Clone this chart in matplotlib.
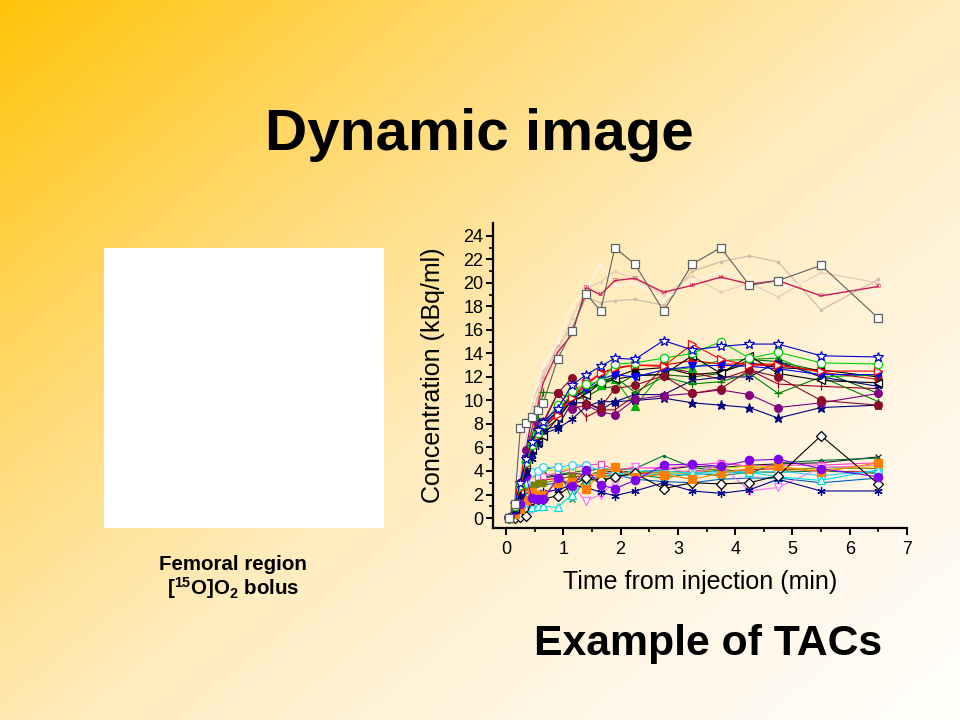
import numpy as np
import matplotlib
matplotlib.use("Agg")
import matplotlib.pyplot as plt
from matplotlib.patches import Rectangle

plt.rcParams['font.family'] = ['Liberation Sans', 'DejaVu Sans']
plt.rcParams['mathtext.fontset'] = 'custom'
plt.rcParams['mathtext.rm'] = 'Liberation Sans'
plt.rcParams['mathtext.bf'] = 'Liberation Sans:bold'
plt.rcParams['mathtext.default'] = 'bf'

# ---------------- data ----------------
times = [0.05, 0.15, 0.25, 0.35, 0.45, 0.55, 0.65, 0.9, 1.15, 1.4, 1.65, 1.9,
         2.25, 2.75, 3.25, 3.75, 4.25, 4.75, 5.5, 6.5]
x_ticks = [0, 1, 2, 3, 4, 5, 6, 7]
y_ticks = [0, 2, 4, 6, 8, 10, 12, 14, 16, 18, 20, 22, 24]

# high group (faint curves, crimson numbered curve, gray squares)
high_faint_a = [0, 1.0, 3.5, 6.0, 8.5, 10.3, 12.0, 14.6, 16.2, 18.8, 18.3, 18.5, 18.6, 18.1, 21.0, 21.8, 22.3, 21.8, 17.7, 20.3]
high_faint_b = [0, 1.2, 4.0, 7.0, 9.5, 11.0, 12.5, 14.0, 17.0, 19.5, 20.1, 21.0, 20.3, 19.0, 20.6, 19.2, 20.0, 18.8, 20.9, 20.0]
high_faint_c = [0, 1.4, 4.5, 7.5, 10.0, 11.5, 13.0, 15.0, 18.0, 19.5, 21.6, 19.8, 20.0, 18.5, 20.2, 21.0, 20.5, 19.5, 20.3, 19.0]
high_crimson = [0, 0.8, 3.0, 5.5, 7.5, 9.5, 11.5, 14.1, 15.6, 19.6, 19.0, 20.2, 20.4, 19.2, 19.8, 20.5, 19.9, 20.2, 18.9, 19.7]
high_gray_sq = [0, 1.2, 7.7, 8.1, 8.6, 9.2, 9.8, 13.5, 15.9, 19.1, 17.6, 23.0, 21.6, 17.6, 21.6, 23.0, 19.8, 20.2, 21.5, 17.0]

# mid group
mid_blue_star = [0, 1.2, 3.0, 5.0, 6.5, 7.5, 8.2, 9.3, 11.3, 12.2, 12.9, 13.6, 13.5, 15.1, 14.3, 14.6, 14.8, 14.8, 13.8, 13.7]
mid_green_circ = [0, 1.0, 2.8, 4.8, 6.2, 7.2, 8.0, 9.6, 10.8, 11.4, 11.6, 13.1, 13.2, 13.6, 14.0, 15.0, 13.6, 14.1, 13.2, 13.1]
mid_red_tri = [0, 1.0, 2.5, 4.5, 6.0, 7.0, 7.8, 8.8, 10.2, 11.5, 12.3, 12.8, 13.0, 12.9, 14.8, 13.5, 13.0, 13.0, 12.5, 12.5]
mid_maroon_circ = [0, 1.0, 3.0, 5.0, 6.5, 7.5, 8.0, 10.6, 11.9, 9.7, 9.4, 11.0, 11.3, 12.1, 10.6, 11.0, 12.6, 12.0, 10.0, 9.6]
mid_purple_circ = [0, 1.0, 3.0, 5.8, 8.5, 8.0, 8.2, 10.6, 9.3, 9.6, 9.0, 8.8, 10.1, 10.4, 10.6, 10.9, 10.5, 9.4, 9.8, 10.6]
mid_navy_star = [0, 0.8, 2.0, 4.0, 5.5, 6.5, 7.5, 7.8, 9.8, 9.8, 9.2, 9.9, 10.0, 10.2, 9.8, 9.6, 9.4, 8.5, 9.4, 9.6]
mid_blue_tri = [0, 1.0, 2.8, 5.0, 6.3, 7.2, 8.1, 9.0, 10.0, 11.0, 11.8, 12.2, 12.0, 12.6, 12.9, 13.0, 12.9, 12.7, 12.2, 12.2]
mid_black_tri = [0, 0.8, 2.2, 4.5, 5.8, 6.5, 7.0, 8.5, 10.0, 10.5, 11.5, 11.8, 12.1, 12.2, 13.8, 12.3, 13.8, 12.3, 11.7, 11.5]
mid_green_plus = [0, 1.0, 3.0, 5.0, 7.0, 8.5, 10.7, 10.6, 10.2, 10.8, 11.5, 12.0, 10.7, 12.0, 11.4, 11.6, 12.3, 10.6, 12.0, 9.9]
mid_navy_ast = [0, 0.8, 2.0, 3.8, 5.0, 6.2, 7.2, 7.6, 8.4, 9.5, 9.9, 9.9, 10.5, 10.5, 11.7, 12.0, 12.0, 13.3, 12.0, 11.2]
mid_red_sq = [0, 1.0, 2.6, 4.6, 6.0, 7.0, 7.9, 9.0, 10.3, 11.3, 12.3, 12.7, 13.0, 13.0, 13.4, 13.1, 13.1, 13.1, 12.4, 11.8]
mid_green_tri = [0, 1.0, 2.7, 4.7, 6.0, 7.0, 7.8, 9.2, 10.5, 11.0, 11.3, 11.8, 9.5, 12.5, 12.8, 13.4, 13.5, 13.6, 12.0, 12.2]
mid_crimson_bar = [0, 0.8, 2.3, 4.5, 5.5, 6.5, 7.5, 8.4, 10.0, 8.6, 9.2, 9.2, 10.4, 12.8, 12.4, 11.8, 12.6, 11.4, 11.2, 11.0]
mid_black_sq = [0, 1.0, 2.8, 4.9, 6.1, 7.0, 7.8, 9.1, 10.4, 10.8, 11.6, 12.0, 12.6, 12.8, 12.2, 12.4, 13.2, 12.8, 12.6, 12.0]
mid_dkgreen = [0, 1.0, 2.5, 4.5, 5.8, 6.8, 7.6, 8.8, 10.0, 10.3, 11.0, 11.2, 12.2, 12.2, 12.0, 12.3, 13.5, 13.3, 12.5, 10.6]

# low group
low_violet_circ = [0, 0.7, 1.2, 3.6, 1.7, 1.6, 1.6, 3.4, 2.7, 4.1, 2.8, 2.5, 3.2, 4.5, 4.6, 4.4, 4.9, 5.0, 4.2, 3.5]
low_orange_sq = [0, 0.3, 0.8, 1.5, 2.2, 2.0, 2.0, 3.0, 3.1, 2.5, 3.8, 4.3, 3.5, 3.7, 3.3, 3.8, 4.2, 4.4, 3.9, 4.7]
low_black_dia = [0, 0, 0.1, 0.2, 1.5, 1.6, 1.6, 1.9, 2.8, 3.4, 3.2, 3.5, 3.8, 2.5, 3.0, 2.9, 3.0, 3.6, 7.0, 2.9]
low_navy_ast = [0, 0.5, 1.0, 1.5, 1.8, 2.0, 2.2, 2.4, 2.8, 2.6, 2.2, 1.9, 2.3, 3.0, 2.3, 2.1, 2.4, 3.3, 2.3, 2.3]
low_cyan_tri = [0, 0.3, 0.6, 0.8, 0.9, 1.0, 1.0, 0.9, 2.0, 3.0, 3.6, 3.7, 4.0, 4.0, 3.8, 4.0, 3.9, 3.5, 3.2, 4.1]
low_cyan_circ = [0, 0.8, 2.0, 3.0, 3.9, 4.0, 4.3, 4.3, 4.5, 4.5, 4.0, 3.8, 3.6, 3.8, 3.6, 3.9, 3.8, 4.0, 3.6, 4.0]
low_pink_tri = [0, 0.2, 0.5, 0.7, 0.8, 1.5, 2.0, 2.5, 2.7, 1.45, 2.0, 3.0, 4.3, 4.3, 3.8, 4.5, 2.3, 2.6, 4.3, 4.5]
low_olive_circ = [0, 0.5, 1.5, 2.6, 2.8, 3.0, 3.0, 3.2, 3.6, 3.0, 3.5, 3.6, 3.9, 3.9, 4.0, 4.2, 3.8, 4.0, 4.3, 4.2]
low_green_x = [0, 0.5, 1.5, 3.0, 3.8, 4.0, 4.1, 4.4, 1.6, 3.5, 3.0, 3.6, 3.7, 3.4, 3.8, 3.6, 3.9, 3.9, 4.0, 3.8]
low_yellow = [0, 0.5, 1.5, 2.8, 3.5, 3.9, 4.0, 4.1, 4.2, 3.9, 3.6, 3.5, 4.0, 3.7, 3.9, 4.2, 4.4, 4.3, 4.1, 4.4]
low_pink_sq = [0, 0.6, 1.5, 2.5, 3.3, 3.5, 3.6, 3.8, 4.2, 4.5, 4.6, 4.1, 4.3, 4.2, 4.5, 4.7, 4.4, 4.5, 4.5, 4.7]
low_dkgreen = [0, 0.6, 1.6, 2.5, 3.0, 3.2, 3.5, 3.7, 3.9, 4.0, 4.2, 4.1, 4.2, 5.3, 4.3, 4.0, 3.8, 4.7, 4.9, 5.1]
low_black_x = [0, 0.5, 1.4, 2.3, 2.8, 3.2, 3.4, 3.6, 3.8, 3.7, 3.9, 4.0, 3.9, 4.1, 4.4, 4.3, 4.5, 4.6, 4.7, 5.2]
low_red = [0, 0.5, 1.3, 2.2, 2.6, 2.9, 3.2, 3.4, 3.5, 3.6, 3.7, 3.9, 3.8, 3.7, 3.9, 4.0, 4.1, 4.2, 4.0, 3.9]
low_blue = [0, 0.4, 1.2, 2.0, 2.4, 2.6, 2.8, 3.0, 3.2, 3.4, 3.5, 3.7, 3.3, 3.1, 3.0, 3.3, 3.4, 3.4, 3.0, 3.4]

# ---------------- styles ----------------
AST = (6, 2, 0)
faint_series = [
    (high_faint_a, '#D9B8A8'),
    (high_faint_b, '#E8CDBD'),
    (high_faint_c, '#FFF4E8'),
]
numbered_series = (high_crimson, '#D01858')
marker_series = [
    # (values, color, marker, filled, size)
    (low_blue, '#0060C0', '', True, 0),
    (low_red, '#FF0000', '', True, 0),
    (low_black_x, '#202020', 'x', True, 5),
    (low_dkgreen, '#007040', '.', True, 3),
    (low_pink_sq, '#FF40C0', 's', False, 5),
    (low_yellow, '#E0E000', '.', True, 3),
    (low_green_x, '#008040', 'x', True, 5),
    (low_olive_circ, '#808000', 'o', True, 5),
    (low_pink_tri, '#FF70FF', 'v', False, 6),
    (low_cyan_circ, '#30D0FF', 'o', False, 5.5),
    (low_cyan_tri, '#00E0E0', '^', False, 6),
    (low_navy_ast, '#000090', AST, True, 6),
    (low_black_dia, '#000000', 'D', False, 5),
    (low_orange_sq, '#FF8000', 's', True, 5.5),
    (low_violet_circ, '#8000F0', 'o', True, 6),
    (mid_dkgreen, '#006400', '', True, 0),
    (mid_black_sq, '#000000', 's', True, 4),
    (mid_crimson_bar, '#A00020', '|', True, 6),
    (mid_green_tri, '#00B000', '^', True, 5.5),
    (mid_red_sq, '#E00000', 's', True, 4.5),
    (mid_navy_ast, '#000080', AST, True, 6),
    (mid_green_plus, '#008000', '+', True, 6),
    (mid_black_tri, '#000000', '<', False, 6),
    (mid_blue_tri, '#0000FF', 'v', True, 5.5),
    (mid_navy_star, '#000080', '*', True, 6.5),
    (mid_purple_circ, '#800080', 'o', True, 5.5),
    (mid_maroon_circ, '#8B0A2A', 'o', True, 5.5),
    (mid_red_tri, '#FF0000', '>', False, 6),
    (mid_green_circ, '#00D000', 'o', False, 6),
    (mid_blue_star, '#0000CC', '*', False, 7),
    (high_gray_sq, '#606060', 's', False, 6),
]

# ---------------- figure ----------------
W, H = 960, 720
fig = plt.figure(figsize=(W / 100, H / 100), dpi=100)

# background gradient
bg = fig.add_axes([0, 0, 1, 1], zorder=-10)
gx, gy = np.meshgrid(np.linspace(0, 1, W), np.linspace(0, 1, H))
t = np.clip(0.55 * gx + 0.5 * gy, 0, 1)
stops = [0.0, 0.3, 0.55, 0.8, 1.0]
rgb = np.dstack([
    np.interp(t, stops, [255, 255, 255, 255, 255]),
    np.interp(t, stops, [196, 218, 236, 246, 253]),
    np.interp(t, stops, [10, 115, 190, 228, 248]),
]) / 255.0
bg.imshow(rgb, aspect='auto', extent=[0, 1, 0, 1], origin='upper')
bg.set_axis_off()

# white image placeholder
fig.add_artist(Rectangle((104 / W, 1 - 528 / H), 280 / W, 280 / H,
                         transform=fig.transFigure, facecolor='white',
                         edgecolor='none', zorder=1))

ax = fig.add_axes([493 / W, 1 - 528 / H, (907 - 493) / W, (528 - 223) / H])
ax.patch.set_alpha(0)

for vals, col in faint_series:
    ax.plot(times, vals, color=col, lw=0.9, marker='.', markersize=3, zorder=2)

vals, col = numbered_series
ax.plot(times, vals, color=col, lw=1.0, zorder=3)
for i, (tx, v) in enumerate(zip(times, vals)):
    if i >= 9:
        ax.text(tx, v, str(i + 1), fontsize=4.5, color=col,
                ha='center', va='center', zorder=3)

for k, (vals, col, mk, filled, ms) in enumerate(marker_series):
    kw = dict(color=col, lw=0.8, zorder=4 + k * 0.01)
    if mk:
        kw.update(marker=mk, markersize=ms, markeredgewidth=0.9,
                  markeredgecolor=col,
                  markerfacecolor=(col if filled else 'white'))
    ax.plot(times, vals, **kw)

ax.set_xlim(-0.227, 7.0)
ax.set_ylim(-0.85, 25.1)
ax.set_xticks(x_ticks)
ax.set_yticks(y_ticks)
ax.set_xticks(np.arange(0.5, 7, 1.0), minor=True)
ax.set_yticks(np.arange(1, 25, 2), minor=True)
for s in ['top', 'right']:
    ax.spines[s].set_visible(False)
for s in ['left', 'bottom']:
    ax.spines[s].set_linewidth(1.6)
ax.tick_params(which='major', direction='out', length=5, width=1.4,
               labelsize=13, pad=2)
ax.tick_params(axis='x', which='major', pad=4)
ax.tick_params(which='minor', direction='out', length=3, width=1.2)
ax.set_xlabel('Time from injection (min)', fontsize=18, labelpad=9)
ax.set_ylabel('Concentration (kBq/ml)', fontsize=18, labelpad=13)

# slide texts
fig.text(479.5 / W, 1 - 150 / H, 'Dynamic image', fontsize=42,
         fontweight='bold', ha='center', va='baseline')
fig.text(708 / W, 1 - 655 / H, 'Example of TACs', fontsize=30.8,
         fontweight='bold', ha='center', va='baseline')
fig.text(233 / W, 1 - 570 / H, 'Femoral region', fontsize=14.8,
         fontweight='bold', ha='center', va='baseline')
fig.text(233 / W, 1 - 595 / H, r'[$^{15}$O]O$_{2}$ bolus', fontsize=14.8,
         fontweight='bold', ha='center', va='baseline')

fig.savefig('out.png', dpi=100)
